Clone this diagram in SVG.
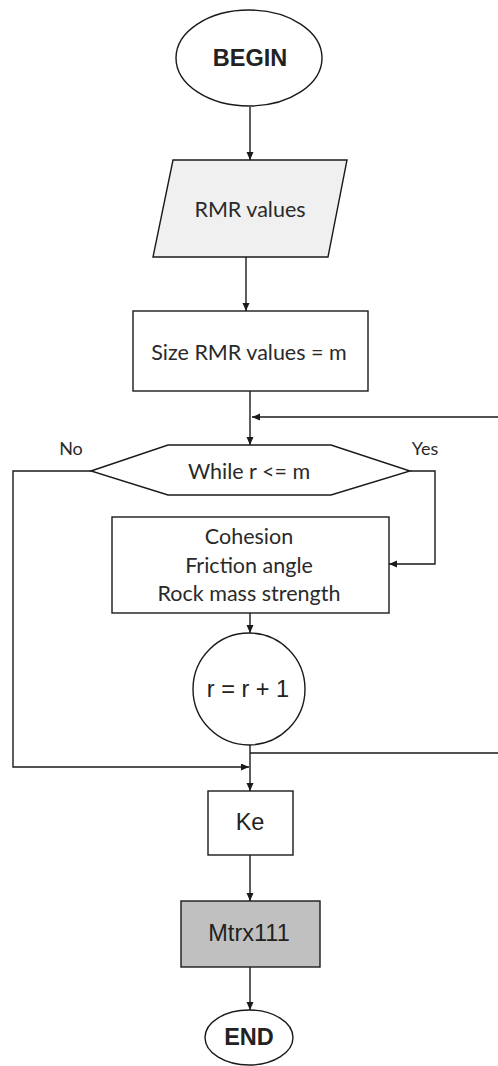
<svg xmlns="http://www.w3.org/2000/svg" width="498" height="1066" viewBox="0 0 498 1066">
<style>
.shape{stroke:#1a1a1a;stroke-width:1.4;fill:#fff}
.conn{stroke:#1a1a1a;stroke-width:1.4;fill:none}
.cal{font-family:Lato,"Open Sans",sans-serif;font-size:21.5px;fill:#2a2a2a;text-anchor:middle;dominant-baseline:central}
.ar{font-family:"Liberation Sans",Arial,sans-serif;font-size:23.5px;fill:#222;text-anchor:middle;dominant-baseline:central}
.lbl{font-family:Lato,"Open Sans",sans-serif;font-size:18px;fill:#2a2a2a;text-anchor:middle;dominant-baseline:central}
</style>
<defs>
<marker id="arr" markerUnits="userSpaceOnUse" markerWidth="9" markerHeight="8" refX="8" refY="3.5" orient="auto">
<path d="M0,0 L8,3.5 L0,7 z" fill="#1a1a1a"/>
</marker>
</defs>
<g id="connectors">
<path class="conn" d="M250,107 V160" marker-end="url(#arr)"/>
<path class="conn" d="M246,257 V311" marker-end="url(#arr)"/>
<path class="conn" d="M250,391 V445" marker-end="url(#arr)"/>
<path class="conn" d="M250,753 H505 V417 H252" marker-end="url(#arr)"/>
<path class="conn" d="M410,471 H435 V564 H389" marker-end="url(#arr)"/>
<path class="conn" d="M91,471 H13 V767 H249" marker-end="url(#arr)"/>
<path class="conn" d="M250,613 V633" marker-end="url(#arr)"/>
<path class="conn" d="M250,745 V791" marker-end="url(#arr)"/>
<path class="conn" d="M250,855 V901" marker-end="url(#arr)"/>
<path class="conn" d="M250,967 V1010" marker-end="url(#arr)"/>
</g>
<g id="begin">
<ellipse class="shape" cx="249" cy="58" rx="73" ry="48"/>
<text class="ar" x="250" y="58" font-weight="bold">BEGIN</text>
</g>
<g id="rmr">
<polygon class="shape" points="173,160 347,160 328,257 153,257" style="fill:#f0f0f0"/>
<text class="cal" x="250" y="209">RMR values</text>
</g>
<g id="size">
<rect class="shape" x="133" y="311" width="235" height="80"/>
<text class="cal" x="249" y="352">Size RMR values = m</text>
</g>
<g id="while">
<polygon class="shape" points="91,471 168,445 331,445 410,471 331,495 168,495"/>
<text class="cal" x="249" y="471">While r &lt;= m</text>
<text class="lbl" x="71" y="448">No</text>
<text class="lbl" x="425" y="448">Yes</text>
</g>
<g id="props">
<rect class="shape" x="112" y="517" width="277" height="96"/>
<text class="cal" x="249" y="536">Cohesion</text>
<text class="cal" x="249" y="564.5">Friction angle</text>
<text class="cal" x="249" y="593">Rock mass strength</text>
</g>
<g id="incr">
<circle class="shape" cx="249" cy="689" r="56"/>
<text class="ar" x="248" y="689">r = r + 1</text>
</g>
<g id="ke">
<rect class="shape" x="208" y="791" width="85" height="64"/>
<text class="ar" x="250" y="822">Ke</text>
</g>
<g id="mtrx">
<rect class="shape" x="181" y="901" width="139" height="66" style="fill:#c0c0c0"/>
<text class="ar" x="249" y="933">Mtrx111</text>
</g>
<g id="end">
<ellipse class="shape" cx="249" cy="1037.5" rx="44" ry="27.5"/>
<text class="ar" x="249" y="1037" font-weight="bold">END</text>
</g>
</svg>
